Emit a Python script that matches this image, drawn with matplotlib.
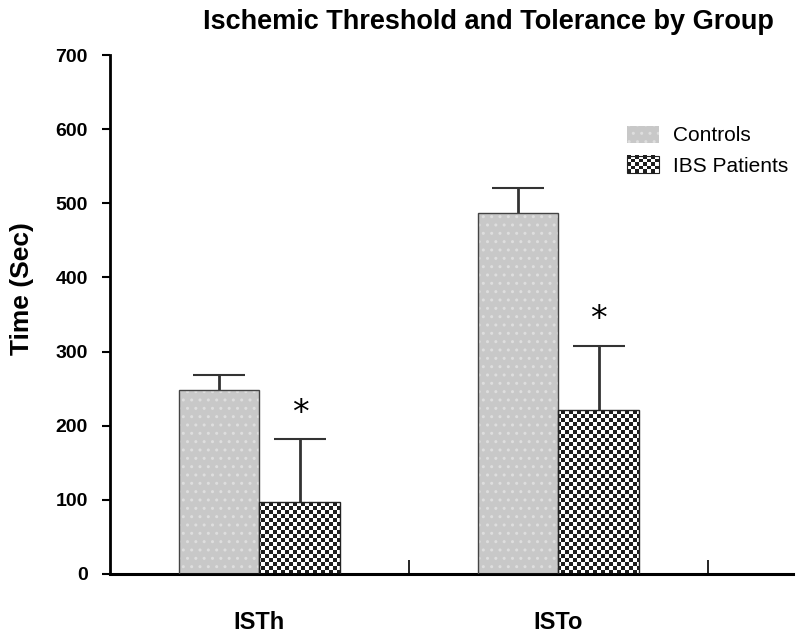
import numpy as np
import matplotlib
matplotlib.use("Agg")
import matplotlib.pyplot as plt
from matplotlib.colors import ListedColormap
from matplotlib.patches import Patch, Rectangle
from matplotlib.legend_handler import HandlerBase
from matplotlib.image import BboxImage
from matplotlib.transforms import Bbox, TransformedBbox

# Daten
categories = ["ISTh", "ISTo"]
groups = ["Controls", "IBS Patients"]
controls = [248, 487]
controls_err = [20, 33]
patients = [97, 221]
patients_err = [85, 87]

plt.rcParams["font.family"] = ["Liberation Sans", "DejaVu Sans"]
plt.rcParams["hatch.linewidth"] = 1.0

CHECK = ListedColormap(["#1e1e1e", "#ffffff"])
GRAY = "#c8c8c8"


def checker(ny, nx):
    # Schachbrettmuster 0/1
    return np.indices((ny, nx)).sum(axis=0) % 2


class CheckerHandler(HandlerBase):
    # Legenden-Symbol mit Schachbrett
    def create_artists(self, legend, orig_handle, xdescent, ydescent,
                       width, height, fontsize, trans):
        bb = TransformedBbox(Bbox.from_bounds(-xdescent, -ydescent, width, height), trans)
        img = BboxImage(bb, cmap=CHECK, interpolation="nearest")
        img.set_data(checker(5, 8))
        frame = Rectangle((-xdescent, -ydescent), width, height, transform=trans,
                          fill=False, edgecolor="#222222", linewidth=0.8)
        return [img, frame]


fig = plt.figure(figsize=(8, 6.36), dpi=100)
ax = fig.add_axes([0.1375, 0.0975, 0.854, 0.816])

x = np.arange(len(categories))
w = 0.27
xlim = (-0.5, 1.785)
ylim = (0, 700)

# Controls: hellgrau mit hellen Punkten
ax.bar(x - w / 2, controls, w, color=GRAY, edgecolor="#dedede", hatch="..", linewidth=0, zorder=2)
ax.bar(x - w / 2, controls, w, fill=False, edgecolor="#444444", linewidth=1, zorder=3)

# IBS Patients: Schachbrettmuster, auf die Balken zugeschnitten
bars = ax.bar(x + w / 2, patients, w, fill=False, edgecolor="#222222", linewidth=1, zorder=3)
for b in bars:
    im = ax.imshow(checker(130, 171), extent=(xlim[0], xlim[1], ylim[0], ylim[1]),
                   cmap=CHECK, interpolation="nearest", aspect="auto", zorder=2)
    im.set_clip_path(b)

# Fehlerbalken nur nach oben
for xs, vals, errs in [(x - w / 2, controls, controls_err), (x + w / 2, patients, patients_err)]:
    eb = ax.errorbar(xs, vals, yerr=[np.zeros(2), errs], fmt="none", ecolor="#333333",
                     elinewidth=2, capsize=19, capthick=1.5, zorder=1)
    eb[1][0].set_visible(False)

# Signifikanz-Sterne
for xi, p, e in zip(x, patients, patients_err):
    ax.text(xi + w / 2, p + e + 35, "*", ha="center", va="center",
            fontsize=24, family="DejaVu Sans")

ax.set_xlim(*xlim)
ax.set_ylim(*ylim)
ax.set_yticks(np.arange(0, 701, 100))
ax.set_xticks([0, 0.5, 1, 1.5])
ax.set_xticklabels(["ISTh", "", "ISTo", ""])
ax.tick_params(axis="x", direction="in", length=10, width=1.2, pad=27, labelsize=17)
ax.tick_params(axis="y", direction="out", length=6, width=1.5, pad=10, labelsize=14)
for lbl in ax.get_xticklabels() + ax.get_yticklabels():
    lbl.set_fontweight("bold")

for s in ["top", "right"]:
    ax.spines[s].set_visible(False)
ax.spines["left"].set_linewidth(2)
ax.spines["bottom"].set_linewidth(2.2)

fig.text(22 / 800, 1 - 289 / 636, "Time (Sec)", rotation=90, ha="center", va="center",
         fontsize=19, fontweight="bold")
fig.text(488 / 800, 0.965, "Ischemic Threshold and Tolerance by Group",
         ha="center", va="center", fontsize=19.5, fontweight="bold")

handles = [
    Patch(facecolor=GRAY, edgecolor="#dedede", hatch="..", linewidth=0),
    Patch(facecolor="none"),
]
ax.legend(handles, groups, loc="upper left", bbox_to_anchor=(0.73, 0.90),
          frameon=False, fontsize=15, handlelength=1.5, handleheight=0.9,
          handletextpad=0.7, labelspacing=0.5,
          handler_map={handles[1]: CheckerHandler()})

fig.savefig("out.png", dpi=100)
